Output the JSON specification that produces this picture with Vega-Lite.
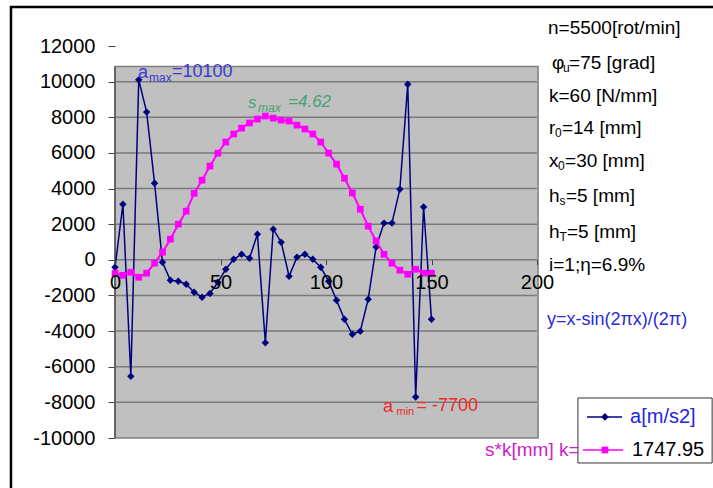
{
  "$schema": "https://vega.github.io/schema/vega-lite/v6.json",
  "width": 422,
  "height": 392,
  "autosize": {"type": "none"},
  "padding": {"left": 115, "top": 46, "right": 176, "bottom": 50},
  "background": "white",
  "config": {"view": {"stroke": null}, "font": "Liberation Sans"},
  "datasets": {
    "series": [
      {"x": 0, "a": -420, "s": -750},
      {"x": 3.75, "a": 3120, "s": -870},
      {"x": 7.5, "a": -6540, "s": -700},
      {"x": 11.25, "a": 10100, "s": -980},
      {"x": 15, "a": 8290, "s": -750},
      {"x": 18.75, "a": 4300, "s": -190},
      {"x": 22.5, "a": -135, "s": 430},
      {"x": 26.25, "a": -1150, "s": 1160},
      {"x": 30, "a": -1200, "s": 2000},
      {"x": 33.75, "a": -1370, "s": 2730},
      {"x": 37.5, "a": -1820, "s": 3730},
      {"x": 41.25, "a": -2100, "s": 4470},
      {"x": 45, "a": -1890, "s": 5260},
      {"x": 48.75, "a": -1260, "s": 5990},
      {"x": 52.5, "a": -530, "s": 6610},
      {"x": 56.25, "a": 30, "s": 7060},
      {"x": 60, "a": 315, "s": 7390},
      {"x": 63.75, "a": 90, "s": 7680},
      {"x": 67.5, "a": 1440, "s": 7900},
      {"x": 71.25, "a": -4650, "s": 8070},
      {"x": 75, "a": 1720, "s": 7950},
      {"x": 78.75, "a": 990, "s": 7840},
      {"x": 82.5, "a": -920, "s": 7790},
      {"x": 86.25, "a": 150, "s": 7560},
      {"x": 90, "a": 315, "s": 7340},
      {"x": 93.75, "a": 30, "s": 7060},
      {"x": 97.5, "a": -420, "s": 6610},
      {"x": 101.25, "a": -1200, "s": 5990},
      {"x": 105, "a": -2270, "s": 5370},
      {"x": 108.75, "a": -3340, "s": 4580},
      {"x": 112.5, "a": -4180, "s": 3750},
      {"x": 116.25, "a": -4010, "s": 2840},
      {"x": 120, "a": -2210, "s": 1890},
      {"x": 123.75, "a": 720, "s": 1060},
      {"x": 127.5, "a": 2060, "s": 310},
      {"x": 131.25, "a": 2060, "s": -190},
      {"x": 135, "a": 3960, "s": -580},
      {"x": 138.75, "a": 9850, "s": -810},
      {"x": 142.5, "a": -7700, "s": -530},
      {"x": 146.25, "a": 2970, "s": -750},
      {"x": 150, "a": -3340, "s": -750}
    ],
    "texts": [
      {"g": "info", "x": 205.2, "y": 13000, "t": "n=5500[rot/min]"},
      {"g": "info", "x": 207.1, "y": 11046, "t": "φ"},
      {"g": "infosub", "x": 212.3, "y": 10766, "t": "u"},
      {"g": "info", "x": 215.2, "y": 11046, "t": "=75 [grad]"},
      {"g": "info", "x": 205.7, "y": 9194, "t": "k=60 [N/mm]"},
      {"g": "info", "x": 205.7, "y": 7398, "t": "r"},
      {"g": "infosub", "x": 208.5, "y": 7118, "t": "0"},
      {"g": "info", "x": 211.8, "y": 7398, "t": "=14 [mm]"},
      {"g": "info", "x": 205.7, "y": 5546, "t": "x"},
      {"g": "infosub", "x": 210.0, "y": 5266, "t": "0"},
      {"g": "info", "x": 213.3, "y": 5546, "t": "=30 [mm]"},
      {"g": "info", "x": 205.7, "y": 3582, "t": "h"},
      {"g": "infosub", "x": 210.7, "y": 3302, "t": "s"},
      {"g": "info", "x": 213.7, "y": 3582, "t": "=5 [mm]"},
      {"g": "info", "x": 205.7, "y": 1562, "t": "h"},
      {"g": "infosub", "x": 210.7, "y": 1282, "t": "T"},
      {"g": "info", "x": 214.2, "y": 1562, "t": "=5 [mm]"},
      {"g": "info", "x": 205.7, "y": -290, "t": "i=1;η=6.9%"},
      {"g": "formula", "x": 204.7, "y": -3377, "t": "y=x-sin(2πx)/(2π)"},
      {"g": "amax", "x": 10.9, "y": 10485, "t": "a"},
      {"g": "amaxsub", "x": 16.1, "y": 10204, "t": "max"},
      {"g": "amax", "x": 27.0, "y": 10541, "t": "=10100"},
      {"g": "smax", "x": 63.0, "y": 8801, "t": "s"},
      {"g": "smaxsub", "x": 67.8, "y": 8521, "t": "max"},
      {"g": "smax", "x": 82.0, "y": 8857, "t": "=4.62"},
      {"g": "amin", "x": 127.0, "y": -8259, "t": "a"},
      {"g": "aminsub", "x": 133.4, "y": -8540, "t": "min"},
      {"g": "amin", "x": 142.9, "y": -8203, "t": "= -7700"},
      {"g": "leg1", "x": 244.1, "y": -8820, "t": "a[m/s2]"},
      {"g": "leg2", "x": 245.0, "y": -10672, "t": "1747.95"},
      {"g": "legsk", "x": 175.4, "y": -10672, "t": "s*k[mm] k="}
    ]
  },
  "layer": [
    {
      "data": {"values": [{"x": -49.3, "x2": 330, "y": -16000, "y2": 14189}]},
      "mark": {"type": "rect", "fill": null, "fillOpacity": 0, "stroke": "black", "strokeWidth": 2.5, "clip": false},
      "encoding": {
        "x": {"field": "x", "type": "quantitative", "scale": {"domain": [0, 200], "nice": false, "zero": false}, "axis": {"title": null, "values": [0, 50, 100, 150, 200], "tickCount": 10, "offset": -178.4, "domain": false, "grid": false, "tickColor": "#404040", "tickSize": 5, "labelFontSize": 20, "labelColor": "black", "labelPadding": 8, "labelAngle": 0, "labelFlush": false, "labelOverlap": false, "zindex": 1, "labelExpr": "'' + datum.value"}},
        "x2": {"field": "x2"},
        "y": {"field": "y", "type": "quantitative", "scale": {"domain": [-10000, 12000], "nice": false, "zero": false}, "axis": {"title": null, "values": [-10000, -8000, -6000, -4000, -2000, 0, 2000, 4000, 6000, 8000, 10000, 12000], "tickCount": 24, "domain": false, "grid": false, "tickColor": "#404040", "tickSize": 7, "labelFontSize": 20, "labelColor": "black", "labelPadding": 13, "labelFlush": false, "labelOverlap": false, "labelExpr": "'' + datum.value"}},
        "y2": {"field": "y2"}
      }
    },
    {
      "data": {"values": [{"x": 0, "x2": 200.5, "y": -10000, "y2": 10850}]},
      "mark": {"type": "rect", "fill": "#c0c0c0", "stroke": "#808080", "strokeWidth": 1.5},
      "encoding": {
        "x": {"field": "x", "type": "quantitative"},
        "x2": {"field": "x2"},
        "y": {"field": "y", "type": "quantitative"},
        "y2": {"field": "y2"}
      }
    },
    {
      "data": {"values": [{"y": 10000}, {"y": 8000}, {"y": 6000}, {"y": 4000}, {"y": 2000}, {"y": 0}, {"y": -2000}, {"y": -4000}, {"y": -6000}, {"y": -8000}]},
      "mark": {"type": "rule", "color": "#7a7a7a", "strokeWidth": 1.5},
      "encoding": {"y": {"field": "y", "type": "quantitative"}}
    },
    {
      "data": {"values": [{"x": 0, "y": -10000, "y2": 10850}]},
      "mark": {"type": "rule", "color": "#555555", "strokeWidth": 1.5},
      "encoding": {
        "x": {"field": "x", "type": "quantitative"},
        "y": {"field": "y", "type": "quantitative"},
        "y2": {"field": "y2"}
      }
    },
    {
      "data": {"name": "series"},
      "mark": {"type": "line", "color": "#000080", "strokeWidth": 1.5, "point": {"shape": "diamond", "size": 55, "filled": true, "color": "#000080"}},
      "encoding": {
        "x": {"field": "x", "type": "quantitative"},
        "y": {"field": "a", "type": "quantitative"}
      }
    },
    {
      "data": {"name": "series"},
      "mark": {"type": "line", "color": "#ff00ff", "strokeWidth": 2, "point": {"shape": "square", "size": 45, "filled": true, "color": "#ff00ff"}},
      "encoding": {
        "x": {"field": "x", "type": "quantitative"},
        "y": {"field": "s", "type": "quantitative"}
      }
    },
    {
      "data": {"values": [{"x": 219.4, "x2": 283, "y": -11402, "y2": -7754}]},
      "mark": {"type": "rect", "fill": "white", "stroke": "#333333", "strokeWidth": 1, "clip": false},
      "encoding": {
        "x": {"field": "x", "type": "quantitative"},
        "x2": {"field": "x2"},
        "y": {"field": "y", "type": "quantitative"},
        "y2": {"field": "y2"}
      }
    },
    {
      "data": {"values": [{"x": 223.7, "x2": 240.3, "y": -8820}]},
      "mark": {"type": "rule", "color": "#000080", "strokeWidth": 1.5},
      "encoding": {
        "x": {"field": "x", "type": "quantitative"},
        "x2": {"field": "x2"},
        "y": {"field": "y", "type": "quantitative"}
      }
    },
    {
      "data": {"values": [{"x": 232.2, "y": -8820}]},
      "mark": {"type": "point", "shape": "diamond", "size": 60, "filled": true, "color": "#000080", "opacity": 1},
      "encoding": {
        "x": {"field": "x", "type": "quantitative"},
        "y": {"field": "y", "type": "quantitative"}
      }
    },
    {
      "data": {"values": [{"x": 221.8, "x2": 240.8, "y": -10672}]},
      "mark": {"type": "rule", "color": "#ff00ff", "strokeWidth": 1.5},
      "encoding": {
        "x": {"field": "x", "type": "quantitative"},
        "x2": {"field": "x2"},
        "y": {"field": "y", "type": "quantitative"}
      }
    },
    {
      "data": {"values": [{"x": 232.2, "y": -10672}]},
      "mark": {"type": "point", "shape": "square", "size": 45, "filled": true, "color": "#ff00ff", "opacity": 1},
      "encoding": {
        "x": {"field": "x", "type": "quantitative"},
        "y": {"field": "y", "type": "quantitative"}
      }
    },
    {
      "data": {"name": "texts"},
      "transform": [{"filter": "datum.g === 'info'"}],
      "mark": {"type": "text", "align": "left", "baseline": "middle", "fontSize": 19, "color": "black"},
      "encoding": {"x": {"field": "x", "type": "quantitative"}, "y": {"field": "y", "type": "quantitative"}, "text": {"field": "t"}}
    },
    {
      "data": {"name": "texts"},
      "transform": [{"filter": "datum.g === 'infosub'"}],
      "mark": {"type": "text", "align": "left", "baseline": "middle", "fontSize": 12, "color": "black"},
      "encoding": {"x": {"field": "x", "type": "quantitative"}, "y": {"field": "y", "type": "quantitative"}, "text": {"field": "t"}}
    },
    {
      "data": {"name": "texts"},
      "transform": [{"filter": "datum.g === 'formula'"}],
      "mark": {"type": "text", "align": "left", "baseline": "middle", "fontSize": 18, "color": "#2a2ad6"},
      "encoding": {"x": {"field": "x", "type": "quantitative"}, "y": {"field": "y", "type": "quantitative"}, "text": {"field": "t"}}
    },
    {
      "data": {"name": "texts"},
      "transform": [{"filter": "datum.g === 'amax'"}],
      "mark": {"type": "text", "align": "left", "baseline": "middle", "fontSize": 18, "color": "#3b3bd4"},
      "encoding": {"x": {"field": "x", "type": "quantitative"}, "y": {"field": "y", "type": "quantitative"}, "text": {"field": "t"}}
    },
    {
      "data": {"name": "texts"},
      "transform": [{"filter": "datum.g === 'amaxsub'"}],
      "mark": {"type": "text", "align": "left", "baseline": "middle", "fontSize": 12, "color": "#3b3bd4"},
      "encoding": {"x": {"field": "x", "type": "quantitative"}, "y": {"field": "y", "type": "quantitative"}, "text": {"field": "t"}}
    },
    {
      "data": {"name": "texts"},
      "transform": [{"filter": "datum.g === 'smax'"}],
      "mark": {"type": "text", "align": "left", "baseline": "middle", "fontSize": 17, "fontStyle": "italic", "color": "#45a373"},
      "encoding": {"x": {"field": "x", "type": "quantitative"}, "y": {"field": "y", "type": "quantitative"}, "text": {"field": "t"}}
    },
    {
      "data": {"name": "texts"},
      "transform": [{"filter": "datum.g === 'smaxsub'"}],
      "mark": {"type": "text", "align": "left", "baseline": "middle", "fontSize": 12, "fontStyle": "italic", "color": "#45a373"},
      "encoding": {"x": {"field": "x", "type": "quantitative"}, "y": {"field": "y", "type": "quantitative"}, "text": {"field": "t"}}
    },
    {
      "data": {"name": "texts"},
      "transform": [{"filter": "datum.g === 'amin'"}],
      "mark": {"type": "text", "align": "left", "baseline": "middle", "fontSize": 18, "color": "#ee2a2a"},
      "encoding": {"x": {"field": "x", "type": "quantitative"}, "y": {"field": "y", "type": "quantitative"}, "text": {"field": "t"}}
    },
    {
      "data": {"name": "texts"},
      "transform": [{"filter": "datum.g === 'aminsub'"}],
      "mark": {"type": "text", "align": "left", "baseline": "middle", "fontSize": 11, "color": "#ee2a2a"},
      "encoding": {"x": {"field": "x", "type": "quantitative"}, "y": {"field": "y", "type": "quantitative"}, "text": {"field": "t"}}
    },
    {
      "data": {"name": "texts"},
      "transform": [{"filter": "datum.g === 'leg1'"}],
      "mark": {"type": "text", "align": "left", "baseline": "middle", "fontSize": 20, "color": "#2424e0"},
      "encoding": {"x": {"field": "x", "type": "quantitative"}, "y": {"field": "y", "type": "quantitative"}, "text": {"field": "t"}}
    },
    {
      "data": {"name": "texts"},
      "transform": [{"filter": "datum.g === 'leg2'"}],
      "mark": {"type": "text", "align": "left", "baseline": "middle", "fontSize": 20, "color": "black"},
      "encoding": {"x": {"field": "x", "type": "quantitative"}, "y": {"field": "y", "type": "quantitative"}, "text": {"field": "t"}}
    },
    {
      "data": {"name": "texts"},
      "transform": [{"filter": "datum.g === 'legsk'"}],
      "mark": {"type": "text", "align": "left", "baseline": "middle", "fontSize": 19, "color": "#cc22cc"},
      "encoding": {"x": {"field": "x", "type": "quantitative"}, "y": {"field": "y", "type": "quantitative"}, "text": {"field": "t"}}
    }
  ]
}
